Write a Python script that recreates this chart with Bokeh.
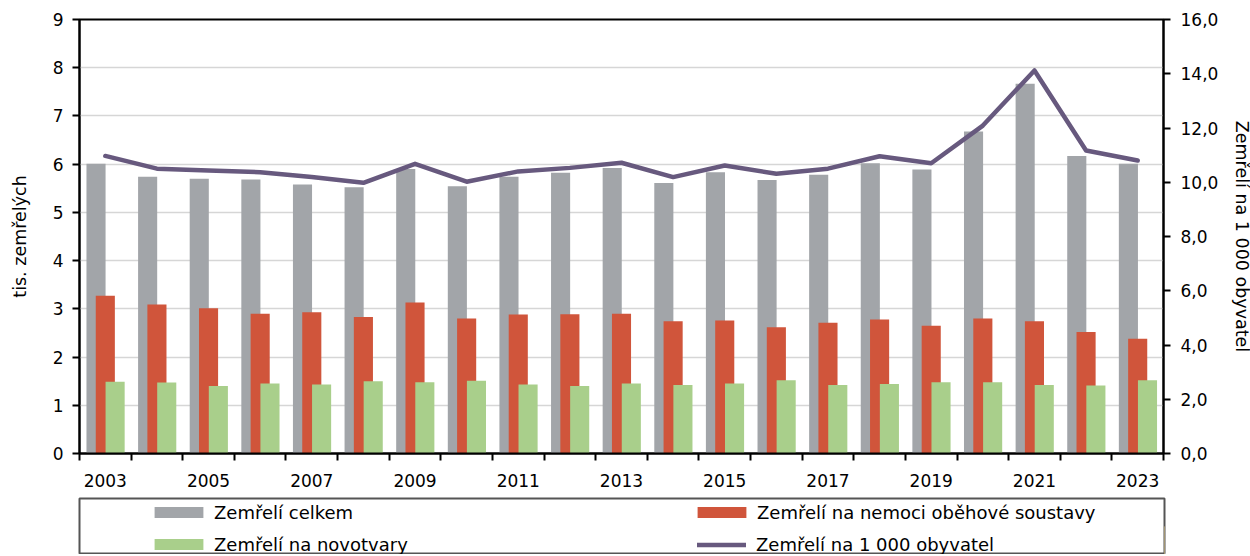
from bokeh.plotting import figure
from bokeh.models import Range1d, LinearAxis, FixedTicker, Legend, LegendItem, ColumnDataSource
from bokeh.layouts import column
from bokeh.transform import dodge
from bokeh.embed import file_html
from bokeh.resources import INLINE

# ---------------- data ----------------
years = list(range(2003, 2024))
total = [6.01, 5.74, 5.70, 5.68, 5.58, 5.52, 5.90, 5.54, 5.74, 5.82, 5.92,
         5.61, 5.83, 5.67, 5.78, 6.02, 5.89, 6.68, 7.67, 6.17, 6.01]
circulatory = [3.27, 3.09, 3.01, 2.90, 2.93, 2.83, 3.13, 2.80, 2.88, 2.89, 2.90,
               2.74, 2.76, 2.62, 2.71, 2.78, 2.65, 2.80, 2.74, 2.52, 2.38]
neoplasms = [1.49, 1.47, 1.40, 1.45, 1.43, 1.50, 1.48, 1.51, 1.43, 1.40, 1.45,
             1.42, 1.45, 1.52, 1.42, 1.44, 1.48, 1.48, 1.42, 1.41, 1.52]
rate = [10.97, 10.50, 10.43, 10.37, 10.19, 9.98, 10.68, 10.02, 10.40, 10.53, 10.72,
        10.19, 10.62, 10.31, 10.50, 10.96, 10.70, 12.09, 14.12, 11.17, 10.80]

label_years = [2003, 2005, 2007, 2009, 2011, 2013, 2015, 2017, 2019, 2021, 2023]
left_ticks = [0, 1, 2, 3, 4, 5, 6, 7, 8, 9]
right_ticks = [0, 2, 4, 6, 8, 10, 12, 14, 16]

series_names = ["Zemřelí celkem", "Zemřelí na nemoci oběhové soustavy",
                "Zemřelí na novotvary", "Zemřelí na 1 000 obyvatel"]
left_title = "tis. zemřelých"
right_title = "Zemřelí na 1 000 obyvatel"

GRAY = "#a2a5a9"
RED = "#d0553b"
GREEN = "#a9cf8b"
PURPLE = "#67597e"
FONT = "DejaVu Sans"
FS = "17px"
FS_TITLE = "17.5px"
FS_LEG = "18px"

src = ColumnDataSource(dict(year=years, total=total, circ=circulatory, neo=neoplasms, rate=rate))

p = figure(frame_width=1084, frame_height=434,
           min_border_left=79, min_border_right=87, min_border_top=19, min_border_bottom=37,
           x_range=Range1d(years[0] - 0.5, years[-1] + 0.5), y_range=Range1d(0, 9),
           toolbar_location=None, output_backend="svg",
           x_axis_location=None, y_axis_location=None)
p.extra_y_ranges = {"rate": Range1d(0, 16)}
p.background_fill_color = "white"
p.border_fill_color = "white"
p.outline_line_color = "black"
p.outline_line_width = 2

bw = 0.37
p.vbar(x=dodge("year", -0.18), top="total", width=bw, source=src, fill_color=GRAY, line_color=None)
p.vbar(x=dodge("year", 0.0), top="circ", width=bw, source=src, fill_color=RED, line_color=None)
p.vbar(x=dodge("year", 0.19), top="neo", width=bw, source=src, fill_color=GREEN, line_color=None)
p.line(x="year", y="rate", source=src, y_range_name="rate", line_color=PURPLE, line_width=4.5,
       line_join="round", line_cap="round")

# left axis
ly = LinearAxis(ticker=FixedTicker(ticks=left_ticks, minor_ticks=[]), axis_label=left_title)
ly.major_label_overrides = {t: str(t) for t in left_ticks}
# bottom axis
bx = LinearAxis(ticker=FixedTicker(ticks=label_years,
                                   minor_ticks=[y - 0.5 for y in years] + [years[-1] + 0.5]))
bx.major_label_overrides = {y: str(y) for y in label_years}
bx.major_tick_out = 0
bx.major_tick_in = 0
bx.minor_tick_out = 7
bx.minor_tick_in = 0
bx.minor_tick_line_color = "black"
bx.minor_tick_line_width = 2
bx.major_label_standoff = 13
# right axis
ry = LinearAxis(y_range_name="rate", ticker=FixedTicker(ticks=right_ticks, minor_ticks=[]),
                axis_label=right_title)
ry.major_label_overrides = {t: f"{t:.1f}".replace(".", ",") for t in right_ticks}

for ax in (ly, ry, bx):
    ax.axis_line_color = "black"
    ax.axis_line_width = 2
    ax.major_tick_line_color = "black"
    ax.major_tick_line_width = 2
    ax.major_label_text_font = FONT
    ax.major_label_text_font_size = FS
    ax.major_label_text_color = "black"
    ax.axis_label_text_font = FONT
    ax.axis_label_text_font_size = FS_TITLE
    ax.axis_label_text_font_style = "normal"
    ax.axis_label_text_color = "black"
for ax in (ly, ry):
    ax.major_tick_out = 7
    ax.major_tick_in = 0
    ax.minor_tick_out = 0
    ax.minor_tick_in = 0
    ax.major_label_standoff = 9
ry.major_label_standoff = 10
ly.axis_label_standoff = 20
ry.axis_label_standoff = 11

p.add_layout(ly, "left")
p.add_layout(ry, "right")
p.add_layout(bx, "below")

p.ygrid.ticker = FixedTicker(ticks=left_ticks)
p.ygrid.grid_line_color = "#d6d6d6"
p.ygrid.grid_line_width = 1.5
p.xgrid.visible = False

# ---------------- legend box ----------------
lf = figure(frame_width=1085, frame_height=56,
            min_border_left=78, min_border_right=87, min_border_top=8, min_border_bottom=0,
            x_range=Range1d(0, 1), y_range=Range1d(0, 1),
            toolbar_location=None, output_backend="svg",
            x_axis_type=None, y_axis_type=None)
lf.outline_line_color = "#555555"
lf.outline_line_width = 2
lf.background_fill_color = "white"
lf.border_fill_color = "white"
lf.grid.visible = False

# legend-only renderers, placed outside the visible range
dummy = ColumnDataSource(dict(x=[5, 6], y=[0.5, 0.5]))
r_gray = lf.vbar(x="x", top="y", width=0.1, source=dummy, fill_color=GRAY, line_color=None)
r_red = lf.vbar(x="x", top="y", width=0.1, source=dummy, fill_color=RED, line_color=None)
r_green = lf.vbar(x="x", top="y", width=0.1, source=dummy, fill_color=GREEN, line_color=None)
r_line = lf.line(x="x", y="y", source=dummy, line_color=PURPLE, line_width=4.5, line_cap="round")


def style_legend(lg):
    lg.padding = 5
    lg.margin = 0
    lg.spacing = 11
    lg.label_height = 20
    lg.label_text_font = FONT
    lg.label_text_font_size = FS_LEG
    lg.label_text_color = "black"
    lg.border_line_alpha = 0
    lg.background_fill_alpha = 0


bar_legend = Legend(items=[
    LegendItem(label=series_names[0], renderers=[r_gray]),
    LegendItem(label=series_names[2], renderers=[r_green]),
    LegendItem(label=series_names[1], renderers=[r_red]),
], ncols=2, location=(64, -5.5))
style_legend(bar_legend)
bar_legend.glyph_width = 61
bar_legend.glyph_height = 14
bar_legend.label_standoff = 5
bar_legend.label_width = 466

line_legend = Legend(items=[
    LegendItem(label=series_names[3], renderers=[r_line]),
], location=(613, -5.5))
style_legend(line_legend)
line_legend.glyph_width = 49
line_legend.glyph_height = 11
line_legend.label_standoff = 10

lf.add_layout(bar_legend, "center")
lf.add_layout(line_legend, "center")

layout = column(p, lf, spacing=0)
open("out.html", "w").write(file_html(layout, INLINE))
